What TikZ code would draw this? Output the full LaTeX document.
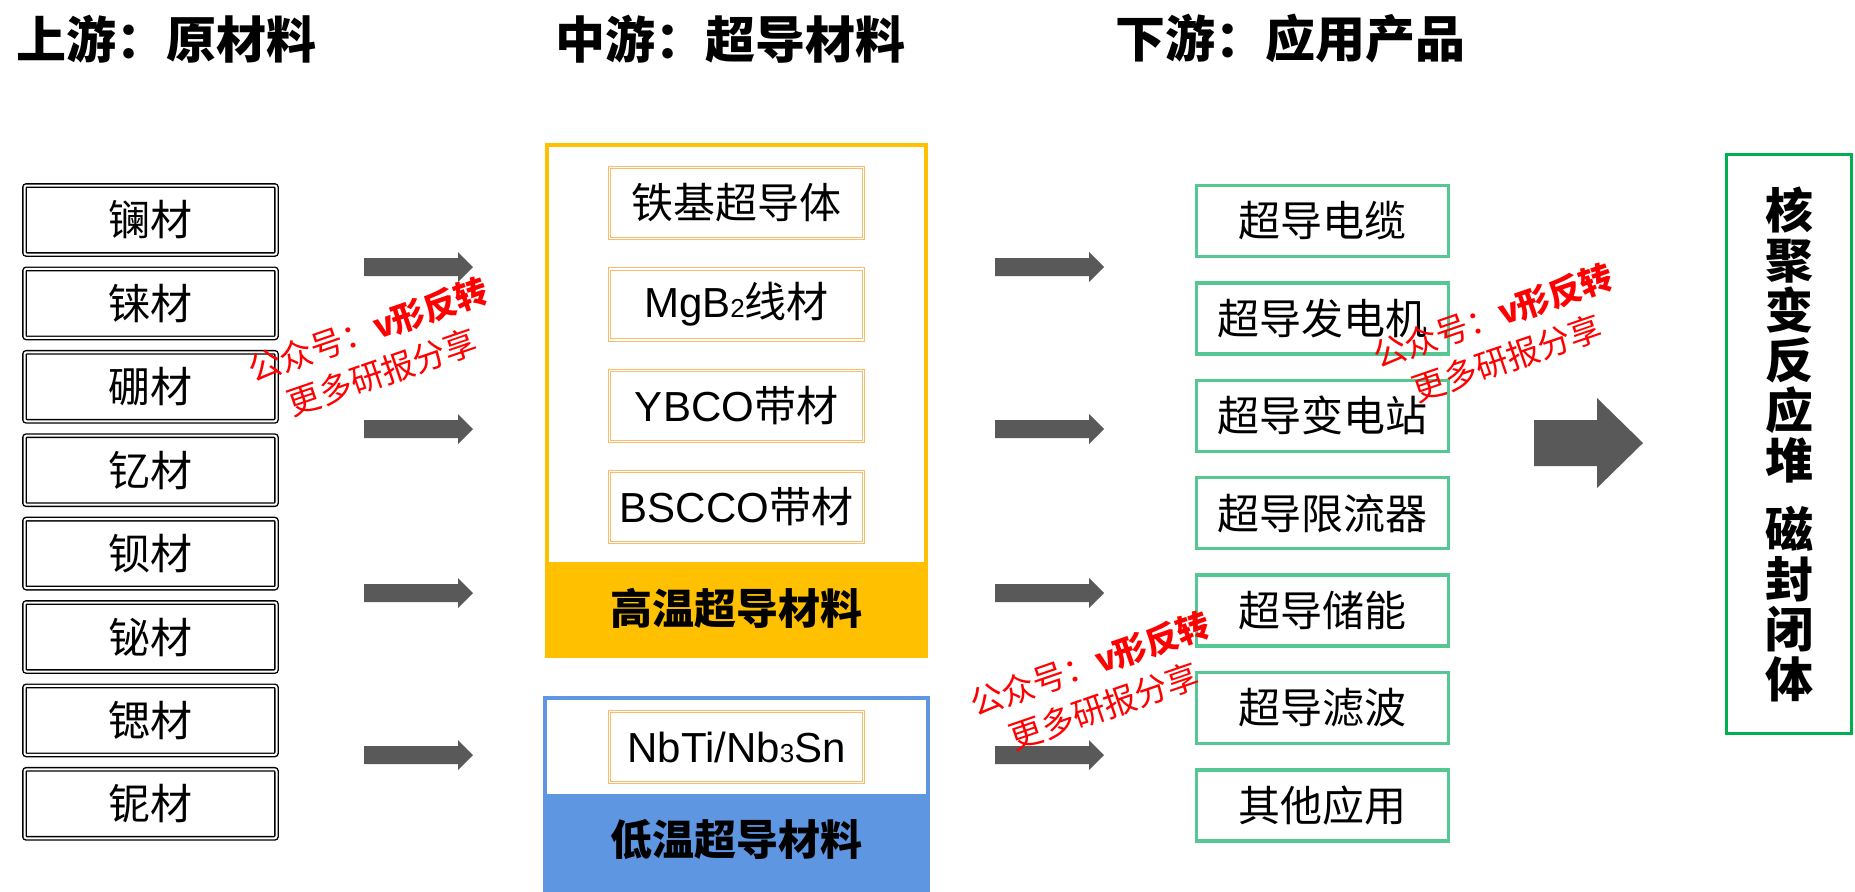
\documentclass[tikz,border=0pt]{standalone}
\usepackage{fontspec}
\setmainfont{Noto Sans CJK SC}
\newfontfamily\latinfont{Liberation Sans}

\newlength{\du}
\setlength{\du}{0.5pt}

\definecolor{hotyellow}{RGB}{255,192,0}
\definecolor{lowblue}{RGB}{94,150,226}
\definecolor{appgreen}{RGB}{86,199,147}
\definecolor{endgreen}{RGB}{0,176,80}
\definecolor{arrowgray}{RGB}{89,89,89}
\definecolor{matorange}{RGB}{250,188,105}
\definecolor{markred}{RGB}{255,0,0}

\tikzset{
  stagetitle/.style={anchor=west, inner sep=0pt, font=\fontsize{25pt}{25pt}\selectfont\bfseries},
  rawbox/.style={draw=black, double, double distance=1pt, line width=0.7pt, rounded corners=1pt,
    minimum width=252\du, minimum height=69\du, inner sep=0pt, font=\fontsize{21pt}{21pt}\selectfont},
  matbox/.style={draw=matorange, double, double distance=0.6pt, line width=0.5pt,
    minimum width=254\du, minimum height=71\du, inner sep=0pt, font=\fontsize{21pt}{21pt}\selectfont},
  appbox/.style={draw=appgreen, line width=1.65pt,
    minimum width=252\du, minimum height=71\du, inner sep=0pt, font=\fontsize{21pt}{21pt}\selectfont},
  bandlabel/.style={inner sep=0pt, font=\fontsize{21pt}{21pt}\selectfont\bfseries},
  goalbox/.style={draw=endgreen, line width=1.65pt, minimum width=125\du, minimum height=579\du,
    inner sep=0pt, align=center, font=\fontsize{24pt}{25pt}\selectfont\bfseries},
  watermark/.style={text=markred, rotate=19, align=center, inner sep=0pt,
    font=\fontsize{16.5pt}{22.3pt}\selectfont},
  pics/flowarrow/.style={code={
    \fill[arrowgray] (0,-9)--(94,-9)--(94,-15)--(109,0)--(94,15)--(94,9)--(0,9)--cycle;}}
}

\begin{document}
\begin{tikzpicture}[x=1\du,y=-1\du]
\useasboundingbox (0,0) rectangle (1855,891);

% stage titles
\node[stagetitle] (uptitle) at (16,39) {上游：原材料};
\node[stagetitle] (midtitle) at (555,39) {中游：超导材料};
\node[stagetitle] (downtitle) at (1115,39) {下游：应用产品};

% upstream: raw materials
\node[rawbox] (lan) at (150.5,220.0) {镧材};
\node[rawbox] (lai) at (150.5,303.4) {铼材};
\node[rawbox] (peng) at (150.5,386.8) {硼材};
\node[rawbox] (yi) at (150.5,470.2) {钇材};
\node[rawbox] (bei) at (150.5,553.6) {钡材};
\node[rawbox] (bi) at (150.5,637.0) {铋材};
\node[rawbox] (si) at (150.5,720.4) {锶材};
\node[rawbox] (ni) at (150.5,803.8) {铌材};

% midstream: high temperature group
\draw[hotyellow, line width=2pt] (547,145) rectangle (926,656);
\fill[hotyellow] (545,562) rectangle (928,658);
\node[bandlabel] (hotlabel) at (736.5,608) {高温超导材料};
\node[matbox] (iron) at (736.5,203.0) {铁基超导体};
\node[matbox] (mgb) at (736.5,304.5) {{\latinfont MgB{\fontsize{13pt}{13pt}\selectfont 2}}线材};
\node[matbox] (ybco) at (736.5,406.0) {{\latinfont YBCO}带材};
\node[matbox] (bscco) at (736.5,507.0) {{\latinfont BSCCO}带材};

% midstream: low temperature group
\draw[lowblue, line width=2pt] (545,698) rectangle (928,900);
\fill[lowblue] (543,794) rectangle (930,900);
\node[bandlabel] (lowlabel) at (736.5,840) {低温超导材料};
\node[matbox] (nbti) at (736.5,747.0) {{\latinfont NbTi/Nb{\fontsize{13pt}{13pt}\selectfont 3}Sn}};

% downstream: applications
\node[appbox] (cable) at (1322.5,221.0) {超导电缆};
\node[appbox] (generator) at (1322.5,318.4) {超导发电机};
\node[appbox] (substation) at (1322.5,415.8) {超导变电站};
\node[appbox] (limiter) at (1322.5,513.2) {超导限流器};
\node[appbox] (storage) at (1322.5,610.6) {超导储能};
\node[appbox] (filter) at (1322.5,708.0) {超导滤波};
\node[appbox] (other) at (1322.5,805.4) {其他应用};

% goal
\node[goalbox] (fusion) at (1789,444) {核\\聚\\变\\反\\应\\堆\\[9.5pt]磁\\封\\闭\\体};

% block arrows
\pic at (364,267) {flowarrow};
\pic at (364,429) {flowarrow};
\pic at (364,593) {flowarrow};
\pic at (364,755) {flowarrow};
\pic at (995,267) {flowarrow};
\pic at (995,429) {flowarrow};
\pic at (995,593) {flowarrow};
\pic at (995,755) {flowarrow};
\fill[arrowgray] (1534,420)--(1597,420)--(1597,398)--(1643,443)--(1597,488)--(1597,466)--(1534,466)--cycle;

% watermarks
\node[watermark] (markA) at (375,351) {公众号：{\bfseries v形反转}\\更多研报分享};
\node[watermark] (markB) at (1500,337) {公众号：{\bfseries v形反转}\\更多研报分享};
\node[watermark] (markC) at (1097,685) {公众号：{\bfseries v形反转}\\更多研报分享};
\end{tikzpicture}
\end{document}
